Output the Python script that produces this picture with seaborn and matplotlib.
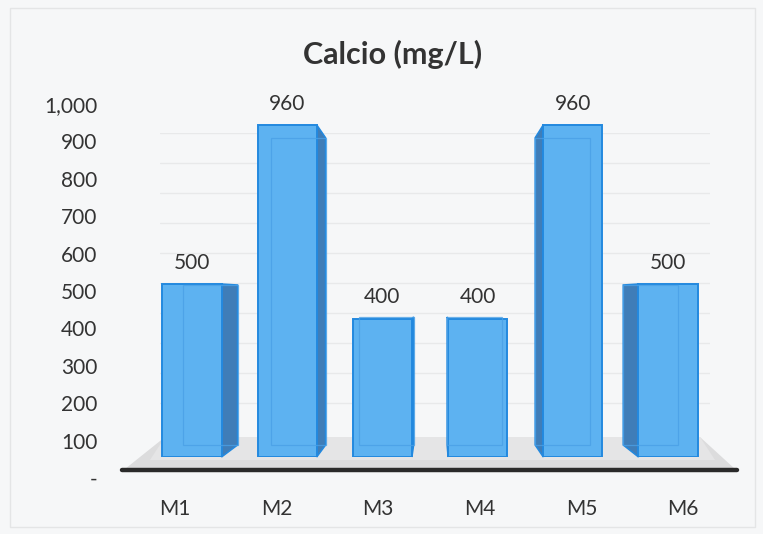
import numpy as np
import pandas as pd
import seaborn as sns
import matplotlib.pyplot as plt
from matplotlib.patches import Polygon, Rectangle
from matplotlib.lines import Line2D

# Calcium concentration per sample
muestras = ["M1", "M2", "M3", "M4", "M5", "M6"]
calcio = [500, 960, 400, 400, 960, 500]
y_ticks = [0, 100, 200, 300, 400, 500, 600, 700, 800, 900, 1000]
y_tick_labels = ["-", "100", "200", "300", "400", "500", "600", "700", "800", "900", "1,000"]
titulo = "Calcio (mg/L)"

W, H = 763, 534
sns.set_theme(style="white")
plt.rcParams["font.family"] = ["Lato", "DejaVu Sans"]

TXT = "#333333"
FRONT = "#5db2f1"
EDGE = "#2389df"
SIDE = "#3f7db8"
INNER = "#4aa0e6"

fig = plt.figure(figsize=(W / 100, H / 100), dpi=100)
fig.patch.set_facecolor("#f6f7f8")


def rect(x0, y0, x1, y1):
    """Axes rectangle from pixel box measured from the top-left corner."""
    return [x0 / W, 1 - y1 / H, (x1 - x0) / W, (y1 - y0) / H]


# faint frame of the chart area
fig.add_artist(Rectangle((10 / W, 1 - 527 / H), 745 / W, 519 / H,
                         transform=fig.transFigure, fill=False,
                         edgecolor="#e4e5e6", lw=1))

# back wall gridlines
ax_grid = fig.add_axes(rect(160, 133, 710, 433))
ax_grid.set_xlim(0, 1)
ax_grid.set_ylim(0, 1000)
ax_grid.set_yticks(y_ticks[1:])
ax_grid.set_xticks([])
ax_grid.tick_params(left=False, labelleft=False)
ax_grid.grid(axis="y", color="#e8e9ea", lw=1)
ax_grid.set_facecolor("none")
for s in ax_grid.spines.values():
    s.set_visible(False)

# axis labels (value and category scales)
ax_lab = fig.add_axes(rect(124, 104, 734, 478))
ax_lab.set_facecolor("none")
ax_lab.set_xlim(-0.5, len(muestras) - 0.5)
ax_lab.set_ylim(0, 1000)
ax_lab.set_yticks(y_ticks)
ax_lab.set_yticklabels(y_tick_labels)
ax_lab.set_xticks(range(len(muestras)))
ax_lab.set_xticklabels(muestras)
ax_lab.tick_params(axis="y", length=0, pad=19, labelsize=15, labelcolor=TXT)
ax_lab.tick_params(axis="x", length=0, pad=15, labelsize=15, labelcolor=TXT)
for s in ax_lab.spines.values():
    s.set_visible(False)

# bars (front faces)
ax = fig.add_axes(rect(144.4, 111, 715.6, 457))
ax.set_facecolor("none")
df = pd.DataFrame({"muestra": muestras, "calcio": calcio})
sns.barplot(data=df, x="muestra", y="calcio", ax=ax, color=FRONT,
            saturation=1, width=0.62, edgecolor=EDGE, linewidth=1.4, zorder=3)
ax.set_xlim(-0.5, len(muestras) - 0.5)
ax.set_ylim(0, 1000)
ax.set_xlabel("")
ax.set_ylabel("")
ax.set_xticks([])
ax.set_yticks([])
for s in ax.spines.values():
    s.set_visible(False)

bars = list(ax.patches)
inv = ax.transData.inverted()


def px(x, y):
    return inv.transform((x, H - y))


# floor of the plot
floor_px = [(125, 469), (735, 469), (700, 437), (165, 437)]
ax.add_patch(Polygon([px(*p) for p in floor_px], closed=True, facecolor="#dcdcdd",
                     edgecolor="none", clip_on=False, zorder=0))
ax.add_patch(Polygon([px(*p) for p in [(150, 460), (715, 460), (700, 437), (165, 437)]],
                     closed=True, facecolor="#e5e5e6", edgecolor="none",
                     clip_on=False, zorder=0.5))

# depth of each bar, receding towards a vanishing point
vx, vy = 435, H - 297
k = 0.925


def back(x, y):
    return vx + (x - vx) * k, vy + (y - vy) * k


for patch in bars:
    x0, y0 = ax.transData.transform((patch.get_x(), patch.get_y()))
    x1, y1 = ax.transData.transform((patch.get_x() + patch.get_width(),
                                     patch.get_y() + patch.get_height()))
    bx0, by0 = back(x0, y0)
    bx1, by1 = back(x1, y1)
    if x1 < vx:
        side = [(x1, y0), (x1, y1), (bx1, by1), (bx1, by0)]
    else:
        side = [(x0, y0), (x0, y1), (bx0, by1), (bx0, by0)]
    side = [inv.transform(p) for p in side]
    ax.add_patch(Polygon(side, closed=True, facecolor=SIDE, edgecolor=EDGE,
                         lw=1.1, clip_on=False, zorder=2))
    # hidden back edges seen through the translucent front
    bl = inv.transform((bx0, by0))
    tr = inv.transform((bx1, by1))
    ax.add_patch(Rectangle(bl, tr[0] - bl[0], tr[1] - bl[1], fill=False,
                           edgecolor=INNER, lw=0.9, alpha=0.8,
                           clip_on=False, zorder=4))

# value labels
for cont in ax.containers:
    ax.bar_label(cont, labels=[f"{v:,.0f}" for v in cont.datavalues],
                 padding=8, fontsize=15, color=TXT)

# horizontal axis line
fig.add_artist(Line2D([122 / W, 737 / W], [1 - 470 / H, 1 - 470 / H],
                      transform=fig.transFigure, color="#2a2a2a", lw=3.2))

fig.text(393 / W, 1 - 54 / H, titulo, ha="center", va="center",
         fontsize=22, fontweight="bold", color=TXT)

fig.savefig("out.png", dpi=100, facecolor=fig.get_facecolor())
